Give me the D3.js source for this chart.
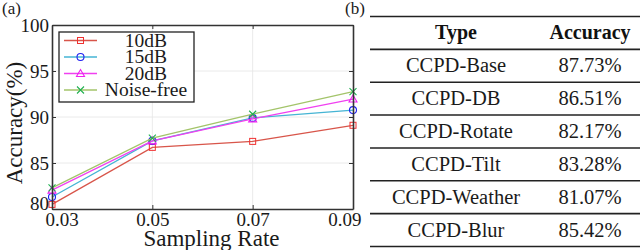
<!DOCTYPE html>
<html>
<head>
<meta charset="utf-8">
<script src="https://cdn.jsdelivr.net/npm/d3@7"></script>
<style>
  body { margin: 0; background: #fff; }
</style>
</head>
<body>
<div id="chart"></div>
<script>
// data
const rates = [0.03, 0.05, 0.07, 0.09];
const acc10dB = [80.5, 86.7, 87.35, 89.1];
const acc15dB = [81.3, 87.4, 89.9, 90.75];
const acc20dB = [82.05, 87.4, 89.8, 91.95];
const accClean = [82.3, 87.7, 90.3, 92.75];
const seriesNames = ["10dB", "15dB", "20dB", "Noise-free"];
const yTicks = [80, 85, 90, 95, 100];

const types = ["CCPD-Base", "CCPD-DB", "CCPD-Rotate", "CCPD-Tilt", "CCPD-Weather", "CCPD-Blur"];
const accuracies = ["87.73%", "86.51%", "82.17%", "83.28%", "81.07%", "85.42%"];

const serif = "'Liberation Serif', 'DejaVu Serif', serif";

const svg = d3.select("#chart").append("svg")
    .attr("width", 640)
    .attr("height", 250)
    .attr("font-family", serif)
    .style("display", "block");

// ---- panel (a): line chart ----
const margin = {top: 25, left: 52},
    width = 301,
    height = 184;

const g = svg.append("g")
    .attr("transform", `translate(${margin.left},${margin.top})`);

const x = d3.scaleLinear().domain([0.03, 0.09]).range([0, width]);
const y = d3.scaleLinear().domain([80, 100]).range([height, 0]);

// grid
g.append("g").selectAll("line")
  .data(yTicks.slice(1, -1))
  .join("line")
    .attr("x1", 0).attr("x2", width)
    .attr("y1", d => y(d)).attr("y2", d => y(d))
    .attr("stroke", "#e4e4e4").attr("stroke-width", 0.8);
g.append("g").selectAll("line")
  .data(rates.slice(1, -1))
  .join("line")
    .attr("x1", d => x(d)).attr("x2", d => x(d))
    .attr("y1", 0).attr("y2", height)
    .attr("stroke", "#e4e4e4").attr("stroke-width", 0.8);

const series = [
  {name: seriesNames[0], values: acc10dB, line: "#d8554a", mark: "#f03030", shape: "square"},
  {name: seriesNames[1], values: acc15dB, line: "#45b4d4", mark: "#2020f0", shape: "circle"},
  {name: seriesNames[2], values: acc20dB, line: "#f040f0", mark: "#f020f0", shape: "triangle"},
  {name: seriesNames[3], values: accClean, line: "#a3c46a", mark: "#20b050", shape: "cross"}
];

const line = d3.line()
    .x((d, i) => x(rates[i]))
    .y(d => y(d));

function drawMarker(sel, shape, color) {
  if (shape === "square") {
    sel.append("rect").attr("x", -3).attr("y", -3).attr("width", 6).attr("height", 6)
      .attr("fill", "none").attr("stroke", color).attr("stroke-width", 1);
  } else if (shape === "circle") {
    sel.append("circle").attr("r", 3.5)
      .attr("fill", "none").attr("stroke", color).attr("stroke-width", 1.1);
  } else if (shape === "triangle") {
    sel.append("path").attr("d", "M0,-4L4,3L-4,3Z")
      .attr("fill", "none").attr("stroke", color).attr("stroke-width", 1.1);
  } else {
    sel.append("path").attr("d", "M-3.5,-3.5L3.5,3.5M-3.5,3.5L3.5,-3.5")
      .attr("fill", "none").attr("stroke", color).attr("stroke-width", 1.1);
  }
}

series.forEach(s => {
  g.append("path")
    .datum(s.values)
    .attr("fill", "none")
    .attr("stroke", s.line)
    .attr("stroke-width", 1.3)
    .attr("d", line);
  s.values.forEach((v, i) => {
    const m = g.append("g").attr("transform", `translate(${x(rates[i])},${y(v)})`);
    drawMarker(m, s.shape, s.mark);
  });
});

// axes
const xAxis = g.append("g")
    .attr("transform", `translate(0,${height})`)
    .call(d3.axisBottom(x).tickValues(rates).tickFormat(d3.format(".2f")).tickSizeInner(-4).tickSizeOuter(0).tickPadding(3));
const yAxis = g.append("g")
    .call(d3.axisLeft(y).tickValues(yTicks).tickSizeInner(-4).tickSizeOuter(0).tickPadding(3));
g.append("g")
    .call(d3.axisTop(x).tickValues(rates).tickFormat("").tickSizeInner(-4).tickSizeOuter(0));
g.append("g")
    .attr("transform", `translate(${width},0)`)
    .call(d3.axisRight(y).tickValues(yTicks).tickFormat("").tickSizeInner(-4).tickSizeOuter(0));

g.selectAll(".domain").attr("stroke", "#333").attr("stroke-width", 1.6);
g.selectAll(".tick line").attr("stroke", "#333").attr("stroke-width", 1);
[xAxis, yAxis].forEach(a => a.attr("font-family", serif).attr("font-size", 19)
    .selectAll("text").attr("fill", "#1a1a1a"));
// matlab-style: end labels nudged inside
xAxis.selectAll(".tick text").filter(d => d === rates[0]).attr("text-anchor", "start").attr("dx", -7);
xAxis.selectAll(".tick text").filter(d => d === rates[rates.length - 1]).attr("text-anchor", "end").attr("dx", 8);
yAxis.selectAll(".tick text").filter(d => d === yTicks[0]).attr("dy", "0.05em");

// axis titles
g.append("text")
    .attr("x", width / 2 + 9).attr("y", height + 37)
    .attr("text-anchor", "middle")
    .attr("font-size", 23).attr("fill", "#1a1a1a")
    .text("Sampling Rate");
g.append("text")
    .attr("transform", `translate(${-30},${height / 2 + 6}) rotate(-90)`)
    .attr("text-anchor", "middle")
    .attr("font-size", 23).attr("fill", "#1a1a1a")
    .text("Accuracy(%)");

// legend
const legend = svg.append("g").attr("transform", "translate(59,32)");
legend.append("rect")
    .attr("width", 135).attr("height", 70)
    .attr("fill", "#fff").attr("stroke", "#222").attr("stroke-width", 1.3);
series.forEach((s, i) => {
  const ly = 8.5 + i * 16.5;
  legend.append("line")
    .attr("x1", 5).attr("x2", 38).attr("y1", ly).attr("y2", ly)
    .attr("stroke", s.line).attr("stroke-width", 1.3);
  drawMarker(legend.append("g").attr("transform", `translate(21.5,${ly})`), s.shape, s.mark);
  legend.append("text")
    .attr("x", 87).attr("y", ly + 6)
    .attr("text-anchor", "middle")
    .attr("font-size", 19.5).attr("fill", "#1a1a1a")
    .text(s.name);
});

svg.append("text").attr("x", 2).attr("y", 14).attr("font-size", 17).attr("fill", "#1a1a1a").text("(a)");

// ---- panel (b): table ----
svg.append("text").attr("x", 345).attr("y", 14).attr("font-size", 17).attr("fill", "#1a1a1a").text("(b)");

const rowY = d3.scaleBand()
    .domain(d3.range(types.length + 1))
    .range([16.5, 246.5]);
const colX = d3.scalePoint().domain(["type", "acc"]).range([456, 590]);

const table = svg.append("g");
table.selectAll("line")
  .data(d3.range(types.length + 2))
  .join("line")
    .attr("x1", 370).attr("x2", 640)
    .attr("y1", d => d < types.length + 1 ? rowY(d) : rowY(types.length) + rowY.bandwidth())
    .attr("y2", d => d < types.length + 1 ? rowY(d) : rowY(types.length) + rowY.bandwidth())
    .attr("stroke", "#222").attr("stroke-width", 1.6);

const header = ["Type", "Accuracy"];
header.forEach((h, i) => {
  table.append("text")
    .attr("x", colX(i ? "acc" : "type"))
    .attr("y", rowY(0) + rowY.bandwidth() / 2 + 6)
    .attr("text-anchor", "middle")
    .attr("font-size", 20).attr("font-weight", "bold").attr("fill", "#111")
    .text(h);
});
types.forEach((t, i) => {
  const cy = rowY(i + 1) + rowY.bandwidth() / 2 + 6.5;
  table.append("text")
    .attr("x", colX("type")).attr("y", cy)
    .attr("text-anchor", "middle").attr("font-size", 20.5).attr("fill", "#1a1a1a")
    .text(t);
  table.append("text")
    .attr("x", colX("acc")).attr("y", cy)
    .attr("text-anchor", "middle").attr("font-size", 20.5).attr("fill", "#1a1a1a")
    .text(accuracies[i]);
});
</script>
</body>
</html>
